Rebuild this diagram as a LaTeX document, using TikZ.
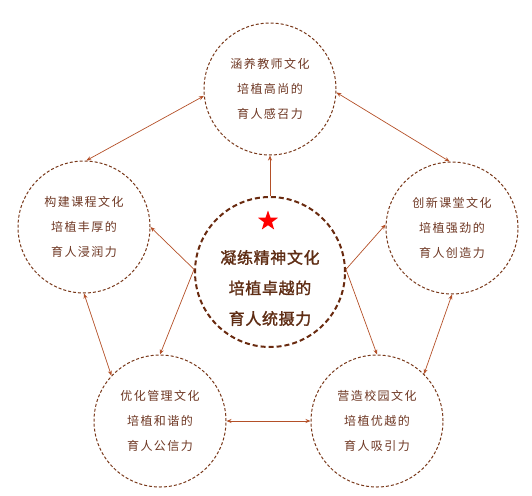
\documentclass[tikz,border=0pt]{standalone}
\usepackage{fontspec}
\newfontfamily\cjk[LetterSpace=12]{Noto Sans CJK SC}
\newfontfamily\cjkb[LetterSpace=4,FakeBold=1.5]{Noto Sans CJK SC}
\usetikzlibrary{arrows.meta,shapes.geometric}
\definecolor{ring}{RGB}{120,55,25}
\definecolor{ringdark}{RGB}{105,42,15}
\definecolor{arr}{RGB}{180,80,40}
\definecolor{txt}{RGB}{110,55,35}
\definecolor{ctxt}{RGB}{95,45,20}
\tikzset{
  ringnode/.style={circle, draw=ring, line width=1pt, dash pattern=on 3pt off 2pt,
    minimum size=132pt, inner sep=0pt, align=center, text=txt,
    font=\cjk\fontsize{12pt}{25pt}\selectfont},
  bigring/.style={circle, draw=ringdark, line width=2pt, dash pattern=on 5pt off 3pt,
    minimum size=150pt, inner sep=0pt},
  ctext/.style={align=center, text=ctxt, font=\cjkb\fontsize{16pt}{30.5pt}\selectfont},
  onearrow/.style={draw=arr, line width=0.7pt, -{Stealth[length=5pt,width=4pt]}},
  twoarrow/.style={draw=arr, line width=0.7pt, {Stealth[length=5pt,width=4pt]}-{Stealth[length=5pt,width=4pt]}},
  redstar/.style={star, star points=5, star point ratio=2.5, fill=red, draw=none, minimum size=21pt, inner sep=0pt}
}
\begin{document}
\begin{tikzpicture}[x=1pt,y=-1pt]
\useasboundingbox (0,0) rectangle (532,495);
\node[bigring] (C) at (270,272) {};
\node[redstar] (S) at (268,221) {};
\node[ctext] (Ct) at (270,288) {凝练精神文化\\培植卓越的\\育人统摄力};
\node[ringnode] (T) at (270,89) {涵养教师文化\\培植高尚的\\育人感召力};
\node[ringnode] (L) at (84,227) {构建课程文化\\培植丰厚的\\育人浸润力};
\node[ringnode] (R) at (452,228) {创新课堂文化\\培植强劲的\\育人创造力};
\node[ringnode] (BL) at (160,421) {优化管理文化\\培植和谐的\\育人公信力};
\node[ringnode] (BR) at (377,421) {营造校园文化\\培植优越的\\育人吸引力};
\draw[onearrow] (C.90) -- (T.270);
\draw[onearrow] (C.178) -- (L.0);
\draw[onearrow] (C.178) -- (BL.90);
\draw[onearrow] (C.2) -- (R.177);
\draw[onearrow] (C.2) -- (BR.90);
\draw[twoarrow] (L.88) -- (T.186);
\draw[twoarrow] (T.357) -- (R.92);
\draw[twoarrow] (L.270) -- (BL.137);
\draw[twoarrow] (R.270) -- (BR.45);
\draw[twoarrow] (BL.0) -- (BR.180);
\end{tikzpicture}
\end{document}
